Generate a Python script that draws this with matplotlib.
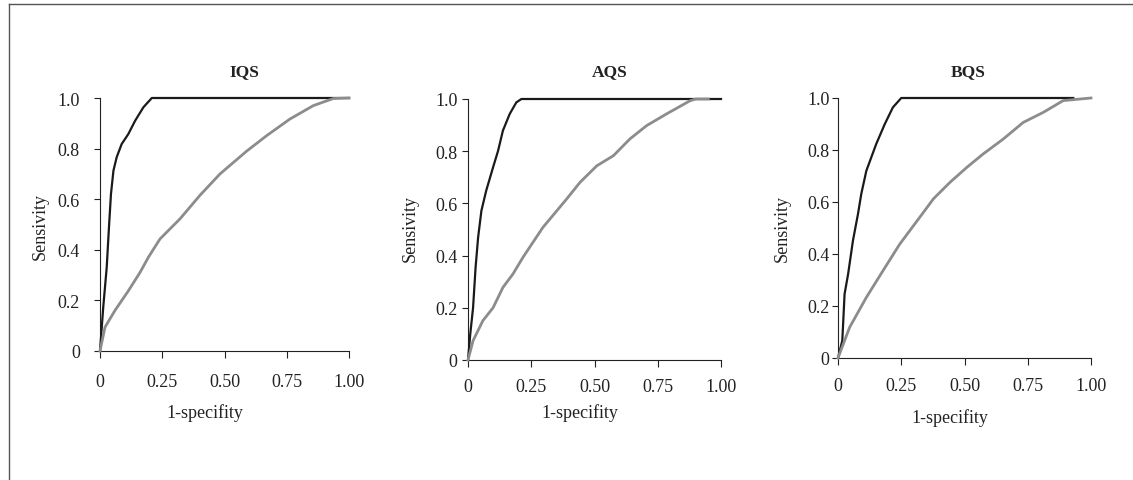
import matplotlib.pyplot as plt
from matplotlib.lines import Line2D

plt.rcParams['font.family'] = ['Liberation Serif', 'DejaVu Serif']

# ROC curves: (1-specificity, sensitivity)
titles = ['IQS', 'AQS', 'BQS']
x_ticks = [0, 0.25, 0.50, 0.75, 1.00]
x_tick_labels = ['0', '0.25', '0.50', '0.75', '1.00']
y_ticks = [0, 0.2, 0.4, 0.6, 0.8, 1.0]
y_tick_labels = ['0', '0.2', '0.4', '0.6', '0.8', '1.0']

iqs_black_x = [0, 0.013, 0.027, 0.036, 0.044, 0.054, 0.067, 0.087, 0.114, 0.141, 0.174, 0.208, 1.0]
iqs_black_y = [0, 0.173, 0.331, 0.489, 0.620, 0.713, 0.766, 0.818, 0.858, 0.910, 0.963, 1.0, 1.0]
iqs_gray_x = [0, 0.020, 0.060, 0.114, 0.161, 0.194, 0.241, 0.321, 0.402, 0.482, 0.589, 0.669, 0.763, 0.857, 0.937, 1.0]
iqs_gray_y = [0, 0.094, 0.160, 0.238, 0.311, 0.370, 0.443, 0.522, 0.616, 0.700, 0.790, 0.851, 0.917, 0.970, 0.998, 1.0]

aqs_black_x = [0, 0.009, 0.020, 0.030, 0.040, 0.053, 0.072, 0.099, 0.119, 0.138, 0.165, 0.191, 0.211, 1.0]
aqs_black_y = [0, 0.100, 0.200, 0.355, 0.470, 0.572, 0.649, 0.738, 0.802, 0.879, 0.943, 0.987, 1.0, 1.0]
aqs_gray_x = [0, 0.020, 0.059, 0.099, 0.138, 0.178, 0.217, 0.296, 0.390, 0.443, 0.509, 0.575, 0.640, 0.706, 0.785, 0.877, 0.900, 0.950]
aqs_gray_y = [0, 0.074, 0.151, 0.200, 0.278, 0.330, 0.393, 0.508, 0.617, 0.681, 0.744, 0.783, 0.847, 0.898, 0.943, 0.993, 1.0, 1.0]

bqs_black_x = [0, 0.017, 0.026, 0.040, 0.059, 0.079, 0.092, 0.112, 0.151, 0.185, 0.217, 0.250, 0.93]
bqs_black_y = [0, 0.067, 0.246, 0.323, 0.451, 0.554, 0.631, 0.720, 0.823, 0.900, 0.964, 1.0, 1.0]
bqs_gray_x = [0, 0.046, 0.112, 0.178, 0.244, 0.323, 0.377, 0.443, 0.509, 0.574, 0.653, 0.732, 0.812, 0.890, 1.0]
bqs_gray_y = [0, 0.118, 0.233, 0.336, 0.438, 0.541, 0.612, 0.676, 0.733, 0.785, 0.842, 0.906, 0.945, 0.990, 1.0]

curves = [
    (iqs_black_x, iqs_black_y, iqs_gray_x, iqs_gray_y),
    (aqs_black_x, aqs_black_y, aqs_gray_x, aqs_gray_y),
    (bqs_black_x, bqs_black_y, bqs_gray_x, bqs_gray_y),
]

W, H = 1133, 481
fig = plt.figure(figsize=(W / 100, H / 100), dpi=100)

# axes boxes in pixels: left, right, top, bottom
boxes = [(100, 349, 99, 352), (468, 721, 100, 361), (838, 1091, 99, 359)]
title_pos = [(244, 72), (610, 72), (968, 72)]
ylab_pos = [(40, 227), (410, 228), (782, 228)]
xlab_pos = [(205, 413), (580, 413), (950, 418)]
x_pads = [10.5, 8, 9]
y_pads = [10.5, 3.5, 2]

for i in range(3):
    l, r, t, b = boxes[i]
    ax = fig.add_axes([l / W, 1 - b / H, (r - l) / W, (b - t) / H])
    bx, by, gx, gy = curves[i]
    ax.plot(bx, by, color='#1a1a1a', lw=1.6, clip_on=False, zorder=3)
    ax.plot(gx, gy, color='#8c8c8c', lw=2.0, clip_on=False, zorder=4)
    ax.set_xlim(0, 1)
    ax.set_ylim(0, 1)
    for s in ['top', 'right']:
        ax.spines[s].set_visible(False)
    for s in ['left', 'bottom']:
        ax.spines[s].set_linewidth(0.8)
        ax.spines[s].set_color('#222222')
    ax.set_xticks(x_ticks)
    ax.set_xticklabels(x_tick_labels)
    ax.set_yticks(y_ticks)
    ax.set_yticklabels(y_tick_labels)
    ax.tick_params(axis='x', direction='out', length=5, width=0.8, pad=x_pads[i], labelsize=13, colors='#222222')
    ax.tick_params(axis='y', direction='out', length=4, width=0.8, pad=y_pads[i], labelsize=13, colors='#222222')

    fig.text(title_pos[i][0] / W, 1 - title_pos[i][1] / H, titles[i], ha='center', va='center',
             fontsize=12.5, fontweight='bold', color='#222222')
    fig.text(ylab_pos[i][0] / W, 1 - ylab_pos[i][1] / H, 'Sensivity', ha='center', va='center',
             rotation=90, fontsize=13, color='#222222')
    fig.text(xlab_pos[i][0] / W, 1 - xlab_pos[i][1] / H, '1-specifity', ha='center', va='center',
             fontsize=13, color='#222222')

# open frame around the figure
fig.add_artist(Line2D([9 / W, 1], [1 - 5 / H, 1 - 5 / H], color='#555555', lw=1.0))
fig.add_artist(Line2D([9 / W, 9 / W], [0, 1 - 5 / H], color='#555555', lw=1.0))

fig.savefig('out.png', dpi=100)
